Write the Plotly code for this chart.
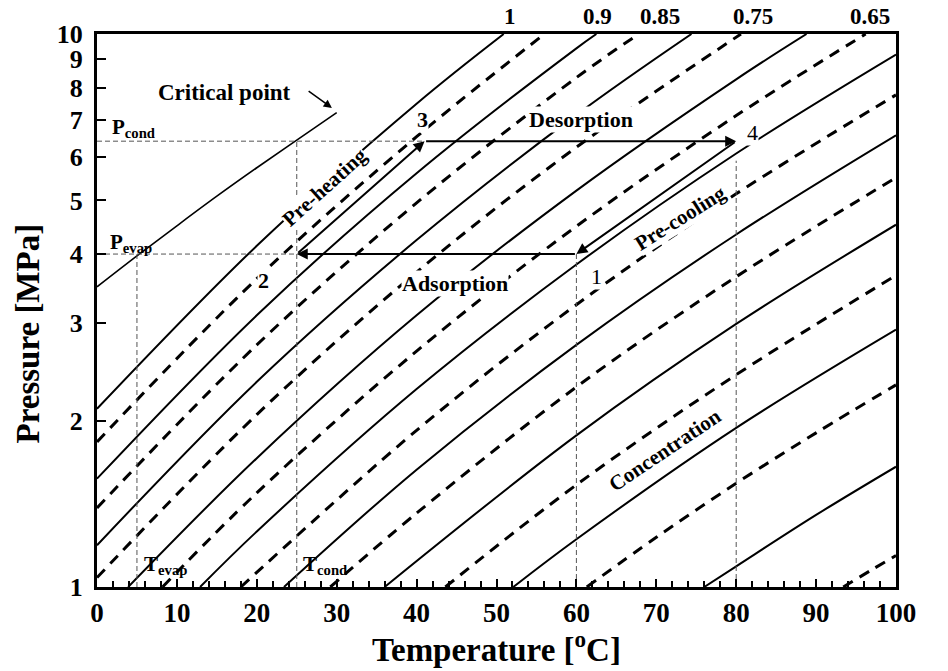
import math
import plotly.graph_objects as go

# ---------------- data ----------------
# Isosteres: temperature [°C] and pressure [MPa] points along each line
iso_100_T = [0, 20, 40, 50.9]
iso_100_P = [2.10, 4.14, 7.48, 10.0]
iso_095_T = [0, 20, 40, 56.0]
iso_095_P = [1.83, 3.61, 6.52, 10.0]
iso_090_T = [0, 20, 40, 60, 62.5]
iso_090_P = [1.57, 3.10, 5.60, 9.42, 10.0]
iso_085_T = [0, 20, 40, 60, 67.8]
iso_085_P = [1.39, 2.74, 4.95, 8.34, 10.0]
iso_080_T = [0, 20, 40, 60, 74.4]
iso_080_P = [1.19, 2.35, 4.24, 7.14, 10.0]
iso_075_T = [0, 20, 40, 60, 80.6]
iso_075_P = [1.04, 2.05, 3.71, 6.24, 10.0]
iso_070_T = [3.9, 20, 40, 60, 80, 88.8]
iso_070_P = [1.0, 1.71, 3.10, 5.21, 8.28, 10.0]
iso_065_T = [8.2, 20, 40, 60, 80, 96.2]
iso_065_P = [1.0, 1.48, 2.67, 4.49, 7.12, 10.0]
iso_060_T = [12.9, 20, 40, 60, 80, 100]
iso_060_P = [1.0, 1.26, 2.28, 3.83, 6.08, 9.18]
iso_055_T = [18.0, 40, 60, 80, 100]
iso_055_P = [1.0, 1.92, 3.24, 5.14, 7.76]
iso_050_T = [23.4, 40, 60, 80, 100]
iso_050_P = [1.0, 1.63, 2.74, 4.34, 6.56]
iso_045_T = [29.2, 40, 60, 80, 100]
iso_045_P = [1.0, 1.36, 2.30, 3.64, 5.50]
iso_040_T = [36.0, 60, 80, 100]
iso_040_P = [1.0, 1.88, 2.99, 4.52]
iso_035_T = [43.6, 60, 80, 100]
iso_035_P = [1.0, 1.53, 2.42, 3.66]
iso_030_T = [52.1, 60, 80, 100]
iso_030_P = [1.0, 1.22, 1.94, 2.92]
iso_025_T = [61.3, 70, 80, 90, 100]
iso_025_P = [1.0, 1.23, 1.54, 1.90, 2.32]
iso_020_T = [76.0, 80, 90, 100]
iso_020_P = [1.0, 1.09, 1.35, 1.65]
iso_015_T = [93.4, 97, 100]
iso_015_P = [1.0, 1.075, 1.14]

# Saturation curve up to the critical point
sat_T = [0, 5, 10, 15, 20, 25, 30]
sat_P = [3.49, 3.97, 4.50, 5.09, 5.73, 6.43, 7.21]

# Cycle states
T_evap, T_cond = 5, 25
P_evap, P_cond = 4.0, 6.4
T_state1, T_state3, T_state4 = 60, 41, 80
T80_guide_top = 5.9

# Labels
top_labels = ["1", "0.9", "0.85", "0.75", "0.65"]
top_label_T = [51.7, 62.6, 70.4, 82.1, 96.7]
right_labels = ["0.55", "0.45", "0.35", "0.25", "0.15"]
right_label_P = [7.9, 5.6, 3.75, 2.37, 1.16]

x_ticks = [0, 10, 20, 30, 40, 50, 60, 70, 80, 90, 100]
y_ticks = [1, 2, 3, 4, 5, 6, 7, 8, 9, 10]

isosteres = [
    (1.00, iso_100_T, iso_100_P), (0.95, iso_095_T, iso_095_P),
    (0.90, iso_090_T, iso_090_P), (0.85, iso_085_T, iso_085_P),
    (0.80, iso_080_T, iso_080_P), (0.75, iso_075_T, iso_075_P),
    (0.70, iso_070_T, iso_070_P), (0.65, iso_065_T, iso_065_P),
    (0.60, iso_060_T, iso_060_P), (0.55, iso_055_T, iso_055_P),
    (0.50, iso_050_T, iso_050_P), (0.45, iso_045_T, iso_045_P),
    (0.40, iso_040_T, iso_040_P), (0.35, iso_035_T, iso_035_P),
    (0.30, iso_030_T, iso_030_P), (0.25, iso_025_T, iso_025_P),
    (0.20, iso_020_T, iso_020_P), (0.15, iso_015_T, iso_015_P),
]

FONT = "Liberation Serif"
L = math.log10

fig = go.Figure()

for lvl, T, P in isosteres:
    solid = round(lvl * 20) % 2 == 0
    fig.add_trace(go.Scatter(
        x=T, y=P, mode="lines", hoverinfo="skip",
        line=dict(color="black", width=2 if solid else 3,
                  dash="solid" if solid else "11px,8px", shape="spline"),
    ))

fig.add_trace(go.Scatter(x=sat_T, y=sat_P, mode="lines", hoverinfo="skip",
                         line=dict(color="black", width=1.6, shape="spline")))

guide = dict(color="#555555", width=1, dash="5px,3px")
guides = [
    ([0, T_state3], [P_cond, P_cond]),
    ([0, T_cond], [P_evap, P_evap]),
    ([T_evap, T_evap], [1, P_evap]),
    ([T_cond, T_cond], [1, P_cond]),
    ([T_state1, T_state1], [1, P_evap]),
    ([T_state4, T_state4], [1, T80_guide_top]),
]
for gx, gy in guides:
    fig.add_trace(go.Scatter(x=gx, y=gy, mode="lines", hoverinfo="skip", line=guide))

ann = []

def txt(x, y, text, size=20, angle=0, bold=True, bg=None, xanchor="center", yref="y"):
    d = dict(x=x, y=y, xref="x", yref=yref, text=("<b>%s</b>" % text) if bold else text,
             showarrow=False, textangle=angle, xanchor=xanchor, yanchor="middle",
             font=dict(family=FONT, size=size, color="black"))
    if bg:
        d.update(bgcolor=bg, borderpad=0)
    ann.append(d)

# process labels
txt(60.6, 0.8445, "Desorption", 22, bg="white")
txt(44.8, 0.548, "Adsorption", 22, bg="white")
txt(28.5, 0.7233, "Pre-heating", 21, angle=-42, bg="white")
txt(73.0, 0.667, "Pre-cooling", 21, angle=-32, bg="white")
txt(71.1, 0.2477, "Concentration", 21, angle=-34, bg="white")
txt(16.0, 0.895, "Critical point", 23)
txt(40.8, 0.8445, "3", 22, bg="white")
txt(82.1, 0.821, "4", 22, bold=False, bg="white")
txt(20.8, 0.555, "2", 22, bg="white")
txt(62.5, 0.5606, "1", 22, bold=False, bg="white")
txt(1.6, 0.830, "P<sub>cond</sub>", 21, xanchor="left")
txt(1.4, 0.622, "P<sub>evap</sub>", 21, xanchor="left")
txt(5.6, 0.040, "T<sub>evap</sub>", 21, xanchor="left")
txt(25.5, 0.040, "T<sub>cond</sub>", 21, xanchor="left")

for lab, t in zip(top_labels, top_label_T):
    ann.append(dict(x=t, y=1.031, xref="x", yref="paper", text="<b>%s</b>" % lab,
                    xanchor="center", yanchor="middle", showarrow=False,
                    font=dict(family=FONT, size=23, color="black")))
for lab, p in zip(right_labels, right_label_P):
    ann.append(dict(x=100.8, y=L(p), xref="x", yref="y", text="<b>%s</b>" % lab,
                    xanchor="left", yanchor="middle", showarrow=False,
                    font=dict(family=FONT, size=23, color="black")))

def arrow(x0, p0, x1, p1, width=2):
    ann.append(dict(x=x1, y=L(p1), ax=x0, ay=L(p0), xref="x", yref="y",
                    axref="x", ayref="y", text="", showarrow=True,
                    arrowhead=2, arrowsize=1.1, arrowwidth=width,
                    arrowcolor="black", standoff=0, startstandoff=0))

arrow(T_state1, P_evap, T_cond, P_evap)          # adsorption 1 -> 2
arrow(T_cond, P_evap, T_state3, P_cond)          # pre-heating 2 -> 3
arrow(T_state3, P_cond, T_state4, P_cond)        # desorption 3 -> 4
arrow(T_state4, P_cond, T_state1, P_evap)        # pre-cooling 4 -> 1
arrow(26.3, 7.92, 29.4, 7.35, width=1.5)         # critical point pointer

# axis titles
ann.append(dict(x=0.5, y=-0.109, xref="paper", yref="paper",
                xanchor="center", yanchor="middle",
                text="<b>Temperature [<sup>o</sup>C]</b>", showarrow=False,
                font=dict(family=FONT, size=33, color="black")))
ann.append(dict(x=-0.086, y=0.459, xref="paper", yref="paper",
                xanchor="center", yanchor="middle",
                text="<b>Pressure [MPa]</b>", showarrow=False, textangle=-90,
                font=dict(family=FONT, size=33, color="black")))

fig.update_layout(
    width=948, height=671,
    margin=dict(l=97, r=52, t=34, b=84),
    paper_bgcolor="white", plot_bgcolor="white",
    showlegend=False, annotations=ann,
    xaxis=dict(range=[0, 100], tickvals=x_ticks, ticks="inside", ticklen=8,
               tickwidth=2, tickcolor="black", showgrid=False, zeroline=False,
               showline=True, linecolor="black", linewidth=3, mirror=True,
               tickfont=dict(family=FONT, size=27, color="black", weight="bold"),
               ticklabelstandoff=0,
               minor=dict(dtick=2, ticks="inside", ticklen=6, tickwidth=2,
                          tickcolor="black", showgrid=False)),
    yaxis=dict(type="log", range=[0, 1], tickvals=y_ticks,
               ticktext=[str(v) for v in y_ticks], ticks="inside", ticklen=9,
               tickwidth=2, tickcolor="black", showgrid=False, zeroline=False,
               showline=True, linecolor="black", linewidth=3, mirror=True,
               tickfont=dict(family=FONT, size=26, color="black", weight="bold"),
               ticklabelstandoff=6),
)

fig.write_html("out.html")
